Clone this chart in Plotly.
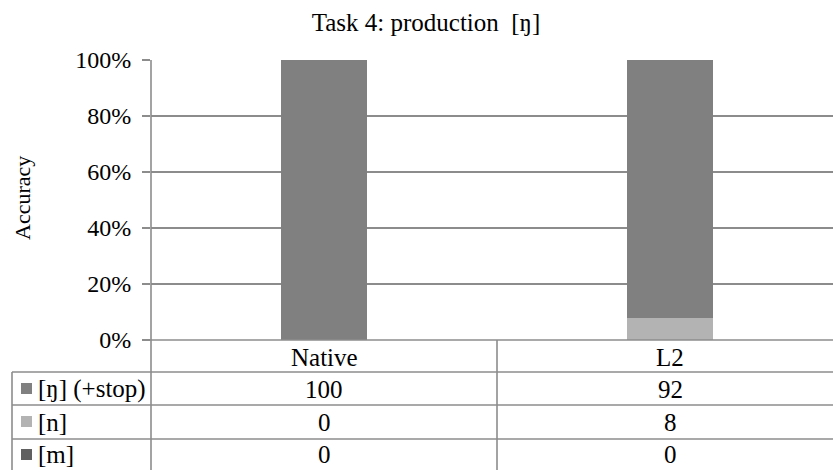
import plotly.graph_objects as go

# Chart data
categories = ["Native", "L2"]
series_names = ["[ŋ] (+stop)", "[n]", "[m]"]
ng_values = [100, 92]
n_values = [0, 8]
m_values = [0, 0]
y_ticks = [0, 20, 40, 60, 80, 100]
y_tick_labels = ["0%", "20%", "40%", "60%", "80%", "100%"]

colors = {"[ŋ] (+stop)": "#808080", "[n]": "#b3b3b3", "[m]": "#606060"}
values = {"[ŋ] (+stop)": ng_values, "[n]": n_values, "[m]": m_values}

W, H = 833, 470
L, T, R_EDGE, B_EDGE = 151, 60, 833, 340  # plot area in pixels
PW, PH = R_EDGE - L, B_EDGE - T
GRID = "#8c8c8c"
FONT = "Liberation Serif"


def px_x(px):
    return (px - L) / PW


def px_y(py):
    return (B_EDGE - py) / PH


fig = go.Figure()

# stacking order, bottom to top
for name in ["[n]", "[m]", "[ŋ] (+stop)"]:
    fig.add_trace(go.Bar(
        x=categories, y=values[name], name=name,
        marker=dict(color=colors[name], line=dict(width=0)),
        width=0.25, showlegend=False, hoverinfo="skip",
    ))

shapes = []


def hline(py, x0, x1):
    shapes.append(dict(type="line", xref="paper", yref="paper",
                       x0=px_x(x0), x1=px_x(x1), y0=px_y(py), y1=px_y(py),
                       line=dict(color=GRID, width=1.6)))


def vline(px, y0, y1, xref="paper"):
    xv = px_x(px) if xref == "paper" else px
    shapes.append(dict(type="line", xref=xref, yref="paper",
                       x0=xv, x1=xv, y0=px_y(y0), y1=px_y(y1),
                       line=dict(color=GRID, width=1.6)))


# table grid
row_lines = [372, 405, 439]
hline(340, 143, 833)
for ry in row_lines:
    hline(ry, 12, 833)
vline(12, 372, 470)
vline(151, 60, 470)
vline(0.5, 340, 470, xref="x")

annotations = []
# category header row
for cat in categories:
    annotations.append(dict(x=cat, xref="x", yref="paper", y=px_y(357),
                            text=cat, showarrow=False, xanchor="center", yanchor="middle",
                            font=dict(family=FONT, size=25, color="black")))

row_centers = [389, 422, 455]
for name, cy in zip(series_names, row_centers):
    # legend key
    shapes.append(dict(type="rect", xref="paper", yref="paper",
                       x0=px_x(21), x1=px_x(32), y0=px_y(cy - 6), y1=px_y(cy + 5),
                       fillcolor=colors[name], line=dict(width=0)))
    annotations.append(dict(x=px_x(36), xref="paper", yref="paper", y=px_y(cy),
                            text=name, showarrow=False, xanchor="left", yanchor="middle",
                            font=dict(family=FONT, size=25, color="black")))
    for cat, v in zip(categories, values[name]):
        annotations.append(dict(x=cat, xref="x", yref="paper", y=px_y(cy),
                                text=str(v), showarrow=False, xanchor="center", yanchor="middle",
                                font=dict(family=FONT, size=25, color="black")))

# y-axis title
annotations.append(dict(x=px_x(22), xref="paper", yref="paper", y=px_y(198),
                        text="Accuracy", textangle=-90, showarrow=False,
                        xanchor="center", yanchor="middle",
                        font=dict(family=FONT, size=22, color="black")))

fig.update_layout(
    width=W, height=H,
    margin=dict(l=L, r=W - R_EDGE, t=T, b=H - B_EDGE, pad=0),
    paper_bgcolor="white", plot_bgcolor="white",
    barmode="stack",
    title=dict(text="Task 4: production  [ŋ]", x=426 / W, xanchor="center",
               y=1 - 22 / H, yanchor="middle", xref="container", yref="container",
               font=dict(family=FONT, size=25, color="black")),
    xaxis=dict(range=[-0.5, -0.5 + PW / 346], showticklabels=False, showgrid=False,
               zeroline=False, showline=False, ticks=""),
    yaxis=dict(range=[0, 100], tickvals=y_ticks, ticktext=y_tick_labels,
               showgrid=True, gridcolor=GRID, gridwidth=1.6, zeroline=False,
               showline=False, ticks="outside", ticklen=8, tickcolor=GRID, tickwidth=1.6,
               ticklabelstandoff=6,
               tickfont=dict(family=FONT, size=24, color="black")),
    shapes=shapes, annotations=annotations,
    font=dict(family=FONT),
)

fig.write_html("out.html")
